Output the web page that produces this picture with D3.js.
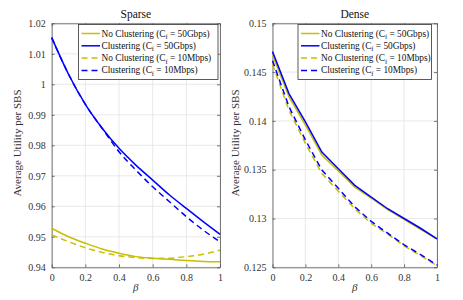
<!DOCTYPE html>
<html>
<head>
<meta charset="utf-8">
<script src="https://cdn.jsdelivr.net/npm/d3@7"></script>
<style>
  body { margin: 0; background: #fff; }
  svg { display: block; font-family: "Liberation Serif", "DejaVu Serif", serif; }
</style>
</head>
<body>
<div id="chart"></div>
<script>
// beta values, shared by both panels
const beta = [0, 0.1, 0.2, 0.3, 0.4, 0.5, 0.6, 0.7, 0.8, 0.9, 1];
const xTicks = [0, 0.2, 0.4, 0.6, 0.8, 1];

// Sparse panel
const sparseNoClust50G = [0.9528, 0.9500, 0.9479, 0.9460, 0.9446, 0.9435, 0.9430, 0.9426, 0.9422, 0.9419, 0.9418];
const sparseClust50G   = [1.0153, 1.0033, 0.9934, 0.9856, 0.9790, 0.9735, 0.9686, 0.9637, 0.9593, 0.9550, 0.9508];
const sparseNoClust10M = [0.9506, 0.9484, 0.9464, 0.9449, 0.9438, 0.9432, 0.9429, 0.9430, 0.9435, 0.9443, 0.9456];
const sparseClust10M   = [1.0153, 1.0033, 0.9934, 0.9855, 0.9779, 0.9719, 0.9664, 0.9615, 0.9566, 0.9522, 0.9484];
const sparseYTicks = [0.94, 0.95, 0.96, 0.97, 0.98, 0.99, 1, 1.01, 1.02];

// Dense panel
const denseNoClust50G = [0.14675, 0.14248, 0.13958, 0.13651, 0.13487, 0.1332, 0.1321, 0.1309, 0.1299, 0.1289, 0.1279];
const denseClust50G   = [0.1471, 0.1428, 0.1399, 0.1368, 0.1351, 0.1334, 0.1322, 0.1310, 0.1300, 0.1290, 0.1279];
const denseNoClust10M = [0.1458, 0.1411, 0.1377, 0.1346, 0.1328, 0.1310, 0.1295, 0.1284, 0.1272, 0.1262, 0.12517];
const denseClust10M   = [0.14617, 0.14146, 0.13805, 0.13497, 0.1331, 0.1312, 0.1297, 0.1285, 0.1273, 0.1263, 0.12523];
const denseYTicks = [0.125, 0.13, 0.135, 0.14, 0.145, 0.15];

const seriesNames = ["No Clustering (C", "Clustering (C", "No Clustering (C", "Clustering (C"];
const seriesRates = ["50Gbps", "50Gbps", "10Mbps", "10Mbps"];

const YELLOW = "#c8bf00";
const BLUE = "#0000ff";
const styles = [
    {color: YELLOW, dash: null},
    {color: BLUE, dash: null},
    {color: YELLOW, dash: "6,4"},
    {color: BLUE, dash: "6,4"}
];

const width = 463, height = 300;
const svg = d3.select("#chart").append("svg")
    .attr("width", width)
    .attr("height", height);

function panel(opts) {
    const x = d3.scaleLinear().domain([0, 1]).range([opts.left, opts.right]);
    const y = d3.scaleLinear().domain(opts.yDomain).range([267.3, 23.3]);
    const g = svg.append("g");

    // grid
    g.append("g").selectAll("line").data(xTicks).join("line")
        .attr("x1", d => x(d)).attr("x2", d => x(d))
        .attr("y1", y.range()[0]).attr("y2", y.range()[1])
        .attr("stroke", "#e3e3e3").attr("stroke-width", 0.8);
    g.append("g").selectAll("line").data(opts.yTicks).join("line")
        .attr("x1", opts.left).attr("x2", opts.right)
        .attr("y1", d => y(d)).attr("y2", d => y(d))
        .attr("stroke", "#e3e3e3").attr("stroke-width", 0.8);

    // axes (ticks inside)
    g.append("g").attr("transform", `translate(0,${y.range()[0]})`)
        .call(d3.axisBottom(x).tickValues(xTicks).tickSizeInner(-3).tickSizeOuter(0).tickPadding(7)
            .tickFormat(d3.format("")));
    g.append("g").attr("transform", `translate(${opts.left},0)`)
        .call(d3.axisLeft(y).tickValues(opts.yTicks).tickSizeInner(-3).tickSizeOuter(0).tickPadding(6)
            .tickFormat(d3.format("")));
    g.append("g").attr("transform", `translate(0,${y.range()[1]})`)
        .call(d3.axisTop(x).tickValues(xTicks).tickSizeInner(-3).tickSizeOuter(0).tickFormat(""));
    g.append("g").attr("transform", `translate(${opts.right},0)`)
        .call(d3.axisRight(y).tickValues(opts.yTicks).tickSizeInner(-3).tickSizeOuter(0).tickFormat(""));
    g.selectAll(".domain, .tick line").attr("stroke", "#555").attr("stroke-width", 0.8);
    g.selectAll(".tick text").attr("fill", "#333").style("font-size", "10px")
        .style("font-family", "Liberation Serif");

    // lines
    const line = d3.line().x((d, i) => x(beta[i])).y(d => y(d)).curve(d3.curveMonotoneX);
    opts.series.forEach((s, i) => {
        g.append("path")
            .datum(s)
            .attr("fill", "none")
            .attr("stroke", styles[i].color)
            .attr("stroke-width", 1.5)
            .attr("stroke-dasharray", styles[i].dash)
            .attr("d", opts.smooth ? line : line.curve(d3.curveLinear));
    });

    // title
    g.append("text")
        .attr("x", (opts.left + opts.right) / 2).attr("y", 17.5)
        .attr("text-anchor", "middle")
        .attr("fill", "#111").style("font-size", "11.5px")
        .text(opts.title);

    // axis labels
    g.append("text")
        .attr("x", (opts.left + opts.right) / 2).attr("y", 291)
        .attr("text-anchor", "middle")
        .attr("fill", "#333").style("font-size", "11px").style("font-style", "italic")
        .text("β");
    g.append("text")
        .attr("transform", `translate(${opts.labelX},143) rotate(-90)`)
        .attr("text-anchor", "middle")
        .attr("fill", "#333").style("font-size", "11px")
        .text("Average Utility per SBS");

    // legend
    const lg = g.append("g");
    lg.append("rect")
        .attr("x", opts.legend[0]).attr("y", 24.5)
        .attr("width", opts.legend[1] - opts.legend[0]).attr("height", 55)
        .attr("fill", "#fff").attr("stroke", "#333").attr("stroke-width", 0.8);
    seriesNames.forEach((name, i) => {
        const ly = 33.5 + i * 12.3;
        lg.append("line")
            .attr("x1", opts.legend[0] + 3).attr("x2", opts.legend[0] + 21.5)
            .attr("y1", ly).attr("y2", ly)
            .attr("stroke", styles[i].color).attr("stroke-width", 1.5)
            .attr("stroke-dasharray", styles[i].dash);
        const t = lg.append("text")
            .attr("x", opts.legend[0] + 23).attr("y", ly + 3)
            .attr("fill", "#111").style("font-size", "9.3px");
        t.append("tspan").text(name);
        t.append("tspan").attr("dy", 2.5).style("font-size", "6.5px").text("f");
        t.append("tspan").attr("dy", -2.5).text(" = " + seriesRates[i] + ")");
    });
}

panel({
    left: 51.7, right: 220, yDomain: [0.94, 1.02], yTicks: sparseYTicks,
    series: [sparseNoClust50G, sparseClust50G, sparseNoClust10M, sparseClust10M],
    title: "Sparse", labelX: 21, legend: [78.5, 218], smooth: true
});
panel({
    left: 272.5, right: 437, yDomain: [0.125, 0.15], yTicks: denseYTicks,
    series: [denseNoClust50G, denseClust50G, denseNoClust10M, denseClust10M],
    title: "Dense", labelX: 239, legend: [298, 431.5], smooth: false
});
</script>
</body>
</html>
